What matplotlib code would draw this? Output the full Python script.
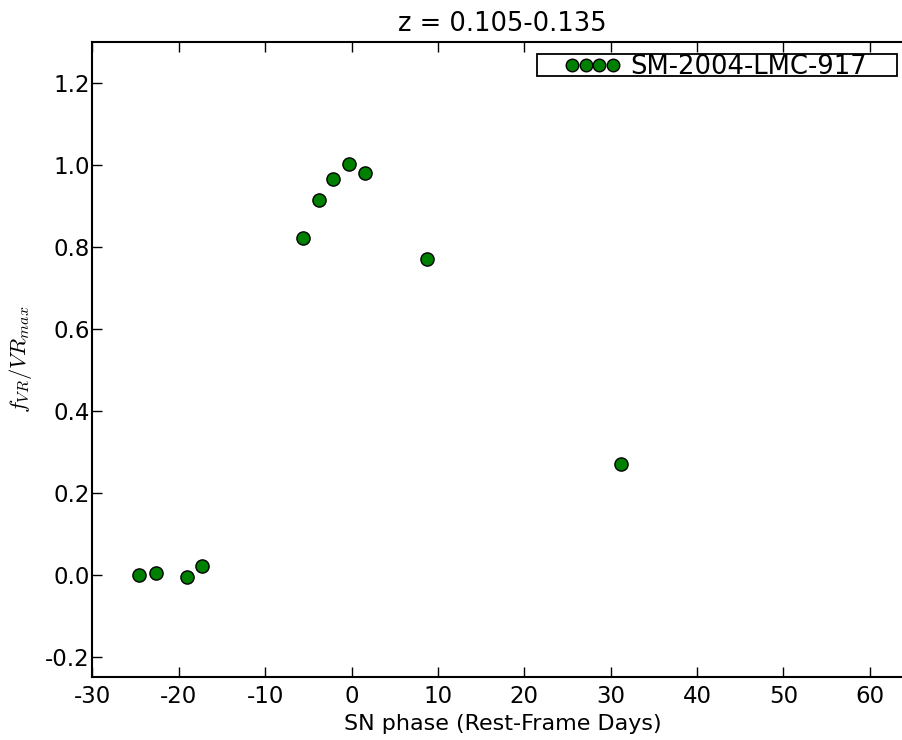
import matplotlib
matplotlib.use("Agg")
import matplotlib.pyplot as plt
from matplotlib.patches import Rectangle

plt.rcParams['mathtext.fontset'] = 'cm'

phase = [-24.6, -22.7, -19.1, -17.3, -5.6, -3.8, -2.2, -0.3, 1.5, 8.7, 31.2]
flux = [0.0, 0.005, -0.005, 0.02, 0.822, 0.915, 0.966, 1.002, 0.98, 0.771, 0.271]
xticks = [-30, -20, -10, 0, 10, 20, 30, 40, 50, 60]
yticks = [-0.2, 0.0, 0.2, 0.4, 0.6, 0.8, 1.0, 1.2]
label = "SM-2004-LMC-917"

fig = plt.figure(figsize=(9.03, 7.4), dpi=100)
ax = fig.add_axes([92.5/903, 1-677/740, (913-92.5)/903, (677-42)/740])
ax.plot(phase, flux, 'o', color='#008000', markeredgecolor='black',
        markeredgewidth=1.0, markersize=9.5, label=label)
ax.set_xlim(-30, 65)
ax.set_ylim(-0.25, 1.3)
ax.set_xticks(xticks)
ax.set_xticklabels([f"{t:d}" for t in xticks])
ax.set_yticks(yticks)
ax.set_yticklabels([f"{t:.1f}" for t in yticks])
ax.tick_params(direction='in', length=7, width=1, top=True, right=True, labelsize=16.5)
ax.tick_params(axis='y', pad=2)
ax.tick_params(axis='x', pad=6)
for s in ax.spines.values():
    s.set_linewidth(1.5)
ax.set_xlabel("SN phase (Rest-Frame Days)", fontsize=16, labelpad=4)
ax.set_ylabel(r"$f_{VR}/VR_{max}$", fontsize=16.2)
ax.yaxis.set_label_coords(-0.071, 0.5)
ax.set_title("z = 0.105-0.135", fontsize=18.5, pad=8)

# legend geometry in pixels of the figure -> axes fraction
ax_w, ax_h = 913 - 92.5, 677 - 42
def fx(px):
    return (px - 92.5) / ax_w
def fy(py):
    return (677 - py) / ax_h

leg = ax.legend(loc='center left', bbox_to_anchor=(fx(564.3), fy(67.5)), numpoints=4,
                fontsize=18.6, frameon=False, borderpad=0.0, borderaxespad=0.0,
                handlelength=2.19, handletextpad=0.35, markerscale=0.95)
ax.add_patch(Rectangle((fx(537), fy(76)), fx(897) - fx(537), fy(54) - fy(76),
                       transform=ax.transAxes, fill=False, edgecolor='black',
                       linewidth=1.3, clip_on=False))
fig.savefig("out.png", dpi=100)
